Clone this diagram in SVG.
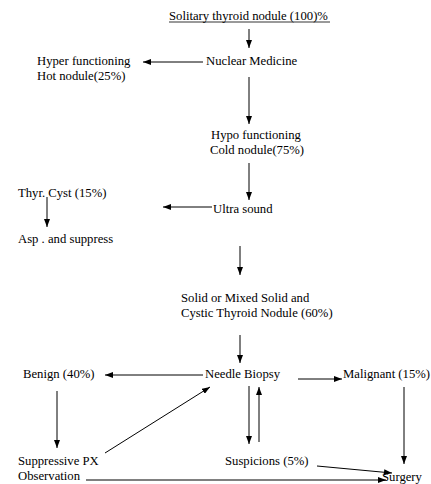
<svg xmlns="http://www.w3.org/2000/svg" width="431" height="484" viewBox="0 0 431 484">
<style>
text{font-family:"Liberation Serif","Times New Roman",serif;font-size:12.7px;fill:#000}
.c line{stroke:#000;stroke-width:1;fill:none;marker-end:url(#ah)}
</style>
<defs>
<marker id="ah" viewBox="0 0 8 6" refX="8" refY="3" markerWidth="8" markerHeight="6" markerUnits="userSpaceOnUse" orient="auto">
<path d="M0,0 L8,3 L0,6 Z" fill="#000"/>
</marker>
</defs>
<rect width="431" height="484" fill="#fff"/>
<g id="n-solitary"><text x="169" y="20">Solitary thyroid nodule (100)%</text><line x1="169" y1="22" x2="330" y2="22" stroke="#000" stroke-width="0.8"/></g>
<g id="n-nuclear"><text x="206" y="65">Nuclear  Medicine</text></g>
<g id="n-hyper"><text x="37" y="65">Hyper functioning</text><text x="37" y="80">Hot nodule(25%)</text></g>
<g id="n-hypo"><text x="211" y="139">Hypo functioning</text><text x="210" y="154">Cold nodule(75%)</text></g>
<g id="n-ultra"><text x="213" y="213">Ultra sound</text></g>
<g id="n-cyst"><text x="18" y="197">Thyr. Cyst (15%)</text></g>
<g id="n-asp"><text x="18" y="243">Asp . and suppress</text></g>
<g id="n-solid"><text x="181" y="302">Solid or Mixed Solid and</text><text x="181" y="317">Cystic Thyroid Nodule (60%)</text></g>
<g id="n-benign"><text x="23" y="378">Benign (40%)</text></g>
<g id="n-needle"><text x="205" y="378">Needle Biopsy</text></g>
<g id="n-malignant"><text x="343" y="378">Malignant (15%)</text></g>
<g id="n-suppressive"><text x="18" y="465">Suppressive PX</text><text x="18" y="480">Observation</text></g>
<g id="n-suspicions"><text x="225" y="465">Suspicions (5%)</text></g>
<g id="n-surgery"><text x="382" y="481">Surgery</text></g>
<g class="c" id="connectors">
<line x1="249" y1="29" x2="249" y2="48"/>
<line x1="203" y1="62" x2="143" y2="62"/>
<line x1="249" y1="77" x2="249" y2="124"/>
<line x1="249" y1="163" x2="249" y2="200"/>
<line x1="212" y1="207" x2="163" y2="207"/>
<line x1="47" y1="197" x2="47" y2="227"/>
<line x1="240" y1="246" x2="240" y2="275"/>
<line x1="240" y1="335" x2="240" y2="363"/>
<line x1="203" y1="375" x2="105" y2="375"/>
<line x1="298" y1="379" x2="342" y2="379"/>
<line x1="57" y1="391" x2="57" y2="448"/>
<line x1="404" y1="387" x2="404" y2="464"/>
<line x1="249" y1="386" x2="249" y2="444"/>
<line x1="259" y1="442" x2="259" y2="387"/>
<line x1="105" y1="453" x2="210" y2="387"/>
<line x1="317" y1="466" x2="392" y2="473"/>
<line x1="86" y1="480" x2="386" y2="480"/>
</g>
</svg>
